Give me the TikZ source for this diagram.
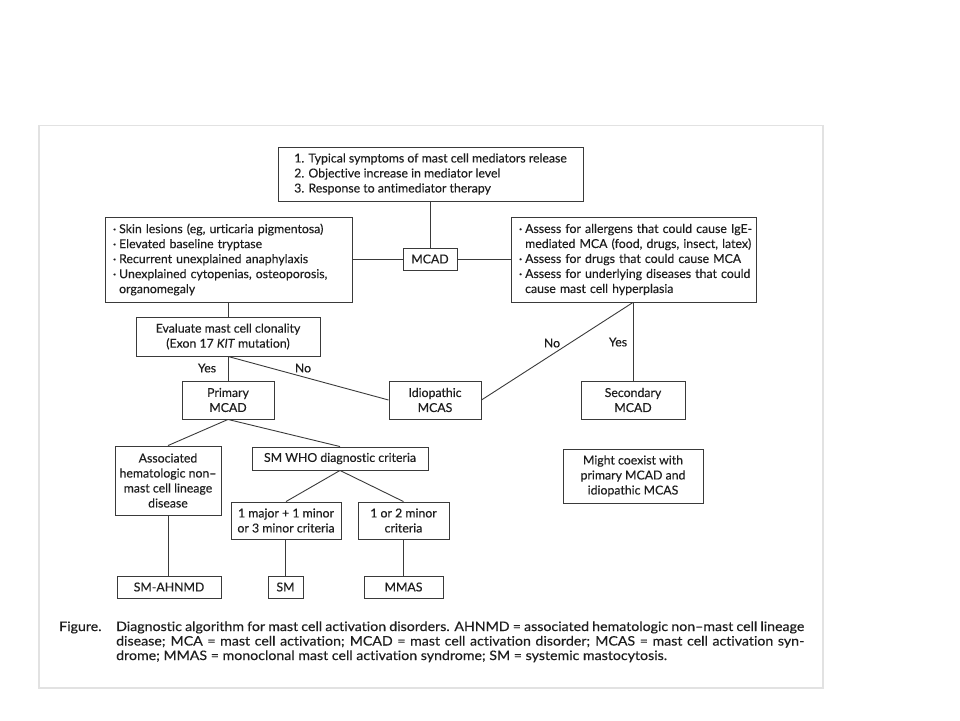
\documentclass[tikz,border=0pt]{standalone}
\usepackage{fontspec}
\setmainfont{Lato}[FakeBold=0.25,Ligatures=NoCommon]
\newfontfamily\capfont[FakeStretch=1.09,FakeBold=0.35,Ligatures=NoCommon]{Lato}
\definecolor{linec}{HTML}{3A3A3A}
\definecolor{txt}{HTML}{1E1E1E}
\definecolor{framec}{HTML}{E2E2E2}
\newcommand{\blt}{\makebox[0.5em][l]{·}}
\begin{document}
\begin{tikzpicture}[x=1pt,y=-1pt,
  box/.style={draw=linec, line width=0.9pt, inner sep=0pt, text=txt, font=\fontsize{12.3}{15}\selectfont},
  lnk/.style={draw=linec, line width=0.9pt},
  lbl/.style={font=\fontsize{12.3}{13}\selectfont, text=txt, inner sep=0pt},
  captxt/.style={font=\capfont\fontsize{13}{14.5}\selectfont, text=txt, inner sep=0pt, anchor=base west}]
\useasboundingbox (0,0) rectangle (960,720);
\draw[framec, line width=1.6pt] (39,125.5) rectangle (823,688);

\node[box, minimum width=305, minimum height=54, align=left] (top) at (430.5,174)
 {1. Typical symptoms of mast cell mediators release\\2. Objective increase in mediator level\\3. Response to antimediator therapy};
\node[box, minimum width=247, minimum height=85, text width=231, align=left] (left) at (228.5,259.5)
 {\mbox{\blt Skin lesions (eg, urticaria pigmentosa)}\\\mbox{\blt Elevated baseline tryptase}\\\mbox{\blt Recurrent unexplained anaphylaxis}\\\mbox{\blt Unexplained cytopenias, osteoporosis,}\\\mbox{\hphantom{\blt}organomegaly}};
\node[box, minimum width=54, minimum height=22] (mcad) at (430,259) {MCAD};
\node[box, minimum width=245, minimum height=85, text width=229, align=left] (right) at (633.5,259.5)
 {\mbox{\blt Assess for allergens that could cause IgE-}\\\mbox{\hphantom{\blt}mediated MCA (food, drugs, insect, latex)}\\\mbox{\blt Assess for drugs that could cause MCA}\\\mbox{\blt Assess for underlying diseases that could}\\\mbox{\hphantom{\blt}cause mast cell hyperplasia}};
\node[box, minimum width=184, minimum height=39, align=center] (eval) at (228,336.5)
 {Evaluate mast cell clonality\\(Exon 17 \textit{KIT} mutation)};
\node[box, minimum width=92, minimum height=38, align=center] (prim) at (228,400) {Primary\\MCAD};
\node[box, minimum width=92, minimum height=38, align=center] (idio) at (435,400) {Idiopathic\\MCAS};
\node[box, minimum width=104, minimum height=38, align=center] (sec) at (633,400) {Secondary\\MCAD};
\node[box, minimum width=140, minimum height=54, align=center] (coex) at (633,476)
 {Might coexist with\\primary MCAD and\\idiopathic MCAS};
\node[box, minimum width=106, minimum height=69, align=center] (assoc) at (168,480.5)
 {Associated\\hematologic non–\\mast cell lineage\\disease};
\node[box, minimum width=176, minimum height=23] (who) at (340,458.5) {SM WHO diagnostic criteria};
\node[box, minimum width=110, minimum height=37, align=center] (major) at (286,520.5)
 {1 major + 1 minor\\or 3 minor criteria};
\node[box, minimum width=91, minimum height=37, align=center] (minor) at (403.5,520.5)
 {1 or 2 minor\\criteria};
\node[box, minimum width=104, minimum height=22] (ahnmd) at (169,587) {SM-AHNMD};
\node[box, minimum width=35, minimum height=22] (sm) at (285.5,587) {SM};
\node[box, minimum width=79, minimum height=22] (mmas) at (403.5,587) {MMAS};

\draw[lnk] (top.south -| mcad.north) -- (mcad.north);
\draw[lnk] (left.east |- mcad.west) -- (mcad.west);
\draw[lnk] (mcad.east) -- (right.west |- mcad.east);
\draw[lnk] (left.south -| eval.north) -- (eval.north);
\draw[lnk] (eval.south) -- (prim.north);
\draw[lnk] (eval.south) -- (idio.west);
\draw[lnk] (right.south -| sec.north) -- (sec.north);
\draw[lnk] (right.south -| sec.north) -- (idio.east);
\draw[lnk] (prim.south) -- (assoc.north);
\draw[lnk] (prim.south) -- (who.north);
\draw[lnk] (who.south) -- (major.north);
\draw[lnk] (who.south) -- (minor.north);
\draw[lnk] (assoc.south) -- (ahnmd.north -| assoc.south);
\draw[lnk] (major.south -| sm.north) -- (sm.north);
\draw[lnk] (minor.south) -- (mmas.north);

\node[lbl] (yes1) at (207,368) {Yes};
\node[lbl] (no1) at (303,368) {No};
\node[lbl] (no2) at (552,343) {No};
\node[lbl] (yes2) at (618,342) {Yes};

\node[captxt] (figl) at (59,631) {Figure.};
\node[captxt] (cap1) at (116,631) {\hbox to 688pt{Diagnostic algorithm for mast cell activation disorders. AHNMD = associated hematologic non–mast cell lineage}};
\node[captxt] (cap2) at (116,645.5) {\hbox to 688pt{disease; MCA = mast cell activation; MCAD = mast cell activation disorder; MCAS = mast cell activation syn-}};
\node[captxt] (cap3) at (116,660) {drome; MMAS = monoclonal mast cell activation syndrome; SM = systemic mastocytosis.};
\end{tikzpicture}
\end{document}
